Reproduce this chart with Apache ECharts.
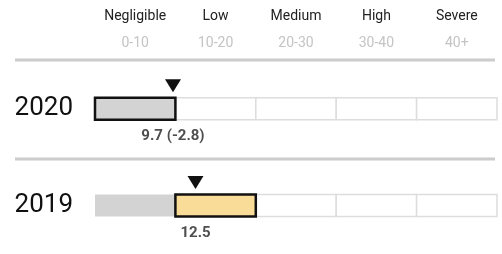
<!DOCTYPE html>
<html>
<head>
<meta charset="utf-8">
<script src="https://cdn.jsdelivr.net/npm/echarts@6/dist/echarts.min.js"></script>
<style>
  html, body { margin: 0; padding: 0; background: #fff; }
  #chart { width: 502px; height: 254px; }
</style>
</head>
<body>
<div id="chart"></div>
<script>
// 风险等级
var bands = ['Negligible', 'Low', 'Medium', 'High', 'Severe'];
var ranges = ['0-10', '10-20', '20-30', '30-40', '40+'];
var bandEdges = [0, 10, 20, 30, 40, 50];
// 年份与得分
var years = ['2020', '2019'];
var scores = [9.7, 12.5];
var scoreLabels = ['9.7 (-2.8)', '12.5'];

var bandColors = ['#d3d3d3', '#f9dc97', '#f4b183', '#ea8a6c', '#d9534f'];

// 每行5个格子: [start, end, rowIndex, band, state] state 0=空 1=已过 2=当前
var cells = [];
years.forEach(function (y, r) {
    var cur = 0;
    for (var i = 0; i < bands.length; i++) {
        if (scores[r] >= bandEdges[i]) cur = i;
    }
    for (var i = 0; i < bands.length; i++) {
        var st = i < cur ? 1 : (i === cur ? 2 : 0);
        cells.push([bandEdges[i], bandEdges[i + 1], r, i, st]);
    }
});
// 先画空格子, 当前格子最后画
cells.sort(function (a, b) { return a[4] - b[4]; });

var myChart = echarts.init(document.getElementById('chart'));
var option = {
    animation: false,
    grid: { left: 95, right: 5, top: 60.25, bottom: -3.25 },
    xAxis: [
        {
            type: 'value', min: 0, max: 50,
            show: false
        },
        {
            type: 'category', data: bands, position: 'top',
            axisLine: { show: false }, axisTick: { show: false },
            splitLine: { show: false },
            axisLabel: {
                margin: 3,
                interval: 0,
                formatter: function (v, i) {
                    return '{a|' + v + '}\n{b|' + ranges[i] + '}';
                },
                rich: {
                    a: { fontSize: 14, color: '#222', lineHeight: 27, fontFamily: 'Roboto' },
                    b: { fontSize: 14, color: '#c4c4c4', lineHeight: 27, fontFamily: 'Roboto' }
                }
            }
        }
    ],
    yAxis: {
        type: 'category', data: years, inverse: true,
        axisLine: { show: false }, axisTick: { show: false },
        splitLine: { show: false },
        axisLabel: { fontSize: 26, color: '#111', margin: 22, fontFamily: 'Roboto' }
    },
    graphic: [
        { type: 'rect', shape: { x: 15, y: 58.5, width: 480, height: 3 }, style: { fill: '#cccccc' }, silent: true },
        { type: 'rect', shape: { x: 15, y: 157.5, width: 480, height: 3 }, style: { fill: '#cccccc' }, silent: true }
    ],
    series: [
        {
            type: 'custom',
            xAxisIndex: 0,
            dimensions: [
                { name: 'start', type: 'number' },
                { name: 'end', type: 'number' },
                { name: 'row', type: 'number' },
                { name: 'band', type: 'number' },
                { name: 'state', type: 'number' }
            ],
            encode: { x: [0, 1], y: 2 },
            data: cells,
            renderItem: function (params, api) {
                var p0 = api.coord([api.value(0), api.value(2)]);
                var p1 = api.coord([api.value(1), api.value(2)]);
                var st = api.value(4);
                var h = 22;
                var style;
                if (st === 0) style = { fill: '#fff', stroke: '#dddddd', lineWidth: 1.5 };
                else if (st === 1) style = { fill: bandColors[api.value(3)], stroke: null };
                else style = { fill: bandColors[api.value(3)], stroke: '#111', lineWidth: 2.5 };
                return {
                    type: 'rect',
                    shape: { x: p0[0], y: p0[1] - h / 2, width: p1[0] - p0[0], height: h },
                    style: style
                };
            },
            z: 2
        },
        {
            type: 'scatter',
            xAxisIndex: 0,
            data: scores.map(function (s, i) { return [s, years[i]]; }),
            symbol: 'triangle',
            symbolRotate: 180,
            symbolSize: [16, 13],
            symbolOffset: [0, -23],
            itemStyle: { color: '#111', opacity: 1 },
            z: 3
        },
        {
            type: 'scatter',
            xAxisIndex: 0,
            data: scores.map(function (s, i) { return [s, years[i]]; }),
            symbolSize: 1,
            itemStyle: { color: 'rgba(0,0,0,0)' },
            label: {
                show: true, position: 'inside', offset: [0, 28],
                formatter: function (p) { return scoreLabels[p.dataIndex]; },
                fontSize: 15, fontWeight: 'bold', color: '#222', fontFamily: 'Roboto'
            },
            z: 3
        }
    ]
};
myChart.setOption(option);
</script>
</body>
</html>
